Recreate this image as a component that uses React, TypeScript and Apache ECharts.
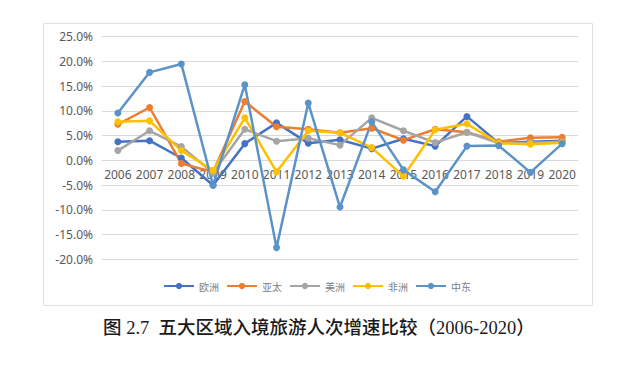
import React, { useEffect, useRef } from "react";
import * as echarts from "echarts";

const years = ["2006","2007","2008","2009","2010","2011","2012","2013","2014","2015","2016","2017","2018","2019","2020"];
const europe = [3.8, 4.0, 0.5, -5.0, 3.4, 7.6, 3.5, 4.2, 2.4, 4.4, 2.9, 8.9, 3.5, 3.8, 4.0];
const asiaPacific = [7.3, 10.7, -0.6, -2.3, 11.9, 6.8, 6.3, 5.6, 6.5, 4.1, 6.3, 5.7, 3.8, 4.6, 4.7];
const americas = [2.0, 6.0, 2.8, -2.5, 6.3, 3.9, 4.5, 3.1, 8.6, 6.0, 3.6, 5.7, 3.5, 3.6, 3.8];
const africa = [7.8, 8.0, 2.0, -2.0, 8.6, -2.3, 6.0, 5.6, 2.6, -3.2, 6.2, 7.4, 3.5, 3.3, 3.6];
const middleEast = [9.6, 17.8, 19.5, -5.0, 15.3, -17.6, 11.6, -9.4, 7.8, -1.9, -6.3, 2.9, 3.0, -2.4, 3.4];

const seriesNames = ["欧洲", "亚太", "美洲", "非洲", "中东"];
const seriesData = [europe, asiaPacific, americas, africa, middleEast];
const colors = ["#4472C4", "#ED7D31", "#A5A5A5", "#FFC000", "#5B93C8"];

const titleText = "图 2.7  五大区域入境旅游人次增速比较（2006-2020）";

export default function App() {
  const ref = useRef<HTMLDivElement>(null);
  useEffect(() => {
    if (!ref.current) return;
    const chart = echarts.init(ref.current, null, { renderer: "svg" });
    chart.setOption({
      animation: false,
      backgroundColor: "#ffffff",
      color: colors,
      grid: { left: 102, right: 62, top: 36.7, bottom: 105.5, containLabel: false },
      legend: {
        data: seriesNames,
        left: 158,
        top: 276,
        itemWidth: 30,
        itemHeight: 8,
        itemGap: 7,
        textStyle: { color: "#808080", fontSize: 10, fontFamily: "Noto Sans CJK SC" },
      },
      xAxis: {
        type: "category",
        data: years,
        boundaryGap: true,
        offset: -99,
        axisLine: { onZero: false, lineStyle: { color: "#d9d9d9", width: 1 } },
        axisTick: { show: false },
        axisLabel: { interval: 0, color: "#595959", fontSize: 12, margin: 8, fontFamily: "Noto Sans" },
      },
      yAxis: {
        type: "value",
        min: -20,
        max: 25,
        interval: 5,
        axisLine: { show: false },
        axisTick: { show: false },
        splitLine: { lineStyle: { color: "#d9d9d9", width: 1 } },
        axisLabel: {
          color: "#595959",
          fontSize: 12,
          margin: 9,
          fontFamily: "Noto Sans",
          formatter: (v: number) => v.toFixed(1) + "%",
        },
      },
      series: seriesNames.map((name, i) => ({
        name,
        type: "line",
        data: seriesData[i],
        symbol: "circle",
        symbolSize: 7,
        lineStyle: { width: 2.5, color: colors[i] },
        itemStyle: { color: colors[i] },
      })),
      graphic: [
        {
          type: "rect",
          shape: { x: 43.5, y: 23.5, width: 549, height: 282 },
          style: { fill: "none", stroke: "#e0e0e0", lineWidth: 1 },
          silent: true,
          z: -1,
        },
        {
          type: "text",
          left: 103,
          top: 319,
          style: {
            text: titleText,
            fill: "#1a1a1a",
            font: "500 18.5px 'Liberation Serif', 'Noto Sans CJK SC', serif",
          },
        },
      ],
    });
    return () => chart.dispose();
  }, []);
  return (
    <div
      ref={ref}
      style={{ position: "fixed", left: 0, top: 0, width: 640, height: 365 }}
    />
  );
}
